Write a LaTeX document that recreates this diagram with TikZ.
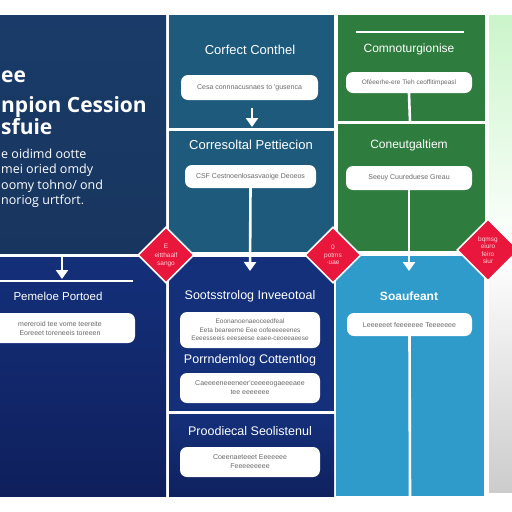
\documentclass[tikz,border=0pt]{standalone}
\usepackage{fontspec}
\setmainfont{Open Sans}
\newfontfamily\ttlfont{Liberation Sans}
\usetikzlibrary{arrows.meta,shapes.geometric}
\definecolor{navyA}{HTML}{1A3B69}
\definecolor{navyB}{HTML}{14307A}
\definecolor{navyC}{HTML}{0F1F5C}
\definecolor{tealA}{HTML}{1D5A7C}
\definecolor{greenA}{HTML}{2F7C3F}
\definecolor{blueA}{HTML}{2F9BCA}
\definecolor{redA}{HTML}{E8173B}
\definecolor{pinkA}{HTML}{FFD0D8}
\definecolor{boxtxt}{HTML}{6A6A6A}
\begin{document}
\begin{tikzpicture}[x=1pt,y=-1pt,
  box/.style={fill=white,rounded corners=7pt,text=boxtxt,align=center,
    font=\ttlfont\fontsize{7}{9}\selectfont,inner sep=1pt},
  ttl/.style={text=white,font=\ttlfont\fontsize{13}{15}\selectfont},
  ttlb/.style={text=white,font=\ttlfont\fontsize{12.5}{15}\selectfont},
  link/.style={draw=white,line width=2.6pt},
  arr/.style={link,-{Triangle[width=12pt,length=9pt]}},
  dia/.style={diamond,aspect=1,fill=redA,draw=white,line width=1.6pt,
    text=pinkA,align=center,inner sep=0pt,minimum size=#1,
    font=\ttlfont\fontsize{6.5}{7.5}\selectfont},
  head/.style={text=white,font=\bfseries\fontsize{21}{23}\selectfont,anchor=base west,inner sep=0pt},
  para/.style={text=white,font=\fontsize{12.5}{14}\selectfont,anchor=base west,inner sep=0pt}]
\useasboundingbox (0,0) rectangle (512,512);
\clip (0,0) rectangle (512,512);
\fill[white] (0,0) rectangle (512,512);
% far right faded strip
\shade[top color=green!18!white!92!gray, bottom color=black!20, middle color=white] (489,15) rectangle (512,492);
% left column
\shade[top color=navyA, bottom color=navyA!90!black] (0,15) rectangle (166,253);
\shade[top color=navyB, bottom color=navyC] (0,257) rectangle (166,496);
% middle column
\fill[tealA] (169,15) rectangle (334,128);
\fill[tealA] (169,131) rectangle (334,252);
\fill[navyB] (169,257) rectangle (334,411);
\shade[top color=navyB, bottom color=navyC!90!navyB] (169,414) rectangle (334,496);
% right column
\fill[greenA] (338,15) rectangle (485,121);
\fill[greenA] (338,124) rectangle (485,251);
\fill[blueA] (336,256) rectangle (484,496);
\draw[white,line width=2.2pt] (356,32) -- (464,32);
% left heading
\node[head] (h1) at (1,82) {ee};
\node[head] (h2) at (1,112) {npion Cession};
\node[head] (h3) at (1,134) {sfuie};
\node[para] (p1) at (1,158) {e oidimd ootte};
\node[para] (p2) at (1,173) {mei oried omdy};
\node[para] (p3) at (1,189) {oomy tohno/ ond};
\node[para] (p4) at (1,204) {noriog urtfort.};
% left lower
\coordinate (la) at (62,257);
\coordinate (lb) at (62,279);
\draw[arr] (la) -- (lb);
\coordinate (ll1) at (0,281);
\coordinate (ll2) at (133,281);
\draw[link] (ll1) -- (ll2);
\node[ttl,font=\ttlfont\fontsize{11.5}{13}\selectfont] (t5) at (58,296) {Pemeloe Portoed};
\node[box,minimum width=150pt,minimum height=30pt] (b5) at (60,328) {mereroid tee vome teereite\\Eoreeet toreneeis toreeen};
% middle top
\node[ttl] (t1) at (250,50) {Corfect Conthel};
\node[box,minimum width=137pt,minimum height=25pt] (b1) at (249.5,87.5) {Cesa connnacusnaes to 'gusenca};
\coordinate (m1) at (252,108);
\coordinate (m2) at (252,127);
\draw[arr] (m1) -- (m2);
\node[ttl] (t2) at (251,145) {Corresoltal Pettiecion};
\node[box,minimum width=131pt,minimum height=23pt] (b2) at (250.5,176.5) {CSF Cestnoenlosasvaoige Deoeos};
\coordinate (m3) at (250,271);
\draw[arr] (b2.south) -- (m3);
% middle lower
\node[ttlb] (t6) at (250,296) {Sootsstrolog Inveeotoal};
\node[box,minimum width=140pt,minimum height=36pt,font=\ttlfont\fontsize{6.5}{8.5}\selectfont] (b6) at (250,330) {Eoonanoenaeoceedfeal\\Eeta beareeme Eee oofeeeeeenes\\Eeeesseeis eeeseese eaee-ceoeeaeese};
\node[ttlb] (t7) at (250,360) {Porrndemlog Cottentlog};
\node[box,minimum width=140pt,minimum height=30pt] (b7) at (250,388) {Caeeeeneeeneer'ceeeeogaeeeaee\\tee eeeeeee};
\node[ttlb] (t8) at (250,431) {Proodiecal Seolistenul};
\node[box,minimum width=140pt,minimum height=30pt] (b8) at (250,462) {Coeenaeteeet Eeeeeee\\Feeeeeeeee};
% right top
\node[ttl,font=\ttlfont\fontsize{12}{14}\selectfont] (t3) at (409,49) {Comnoturgionise};
\node[box,minimum width=126pt,minimum height=21pt,font=\ttlfont\fontsize{6.5}{8}\selectfont] (b3) at (409,82.5) {Oféeerhe-ere Tieh ceoffitimpeasl};
\coordinate (r1) at (410,122);
\draw[link] (b3.south) -- (r1);
\node[ttl,font=\ttlfont\fontsize{12}{14}\selectfont] (t4) at (409,145) {Coneutgaltiem};
\node[box,minimum width=126pt,minimum height=24pt] (b4) at (409,178) {Seeuy Cuureduese Greau};
\coordinate (r2) at (409,271);
\draw[arr] (b4.south) -- (r2);
% right lower
\node[ttl,font=\ttlfont\bfseries\fontsize{12}{14}\selectfont] (t9) at (409,296) {Soaufeant};
\node[box,minimum width=125pt,minimum height=23pt] (b9) at (409.5,324.5) {Leeeeeet feeeeeee Teeeeeee};
\coordinate (r3) at (410,496);
\draw[link] (b9.south) -- (r3);
% diamonds
\node[dia=56pt] (d1) at (166,255) {E\\[2pt]eitthaalf\\sango};
\node[dia=56pt] (d2) at (333,255) {0\\potms\\·uae};
\node[dia=62pt] (d3) at (488,250) {bqmsg\\eiuro\\feiro\\siur};
\end{tikzpicture}
\end{document}
